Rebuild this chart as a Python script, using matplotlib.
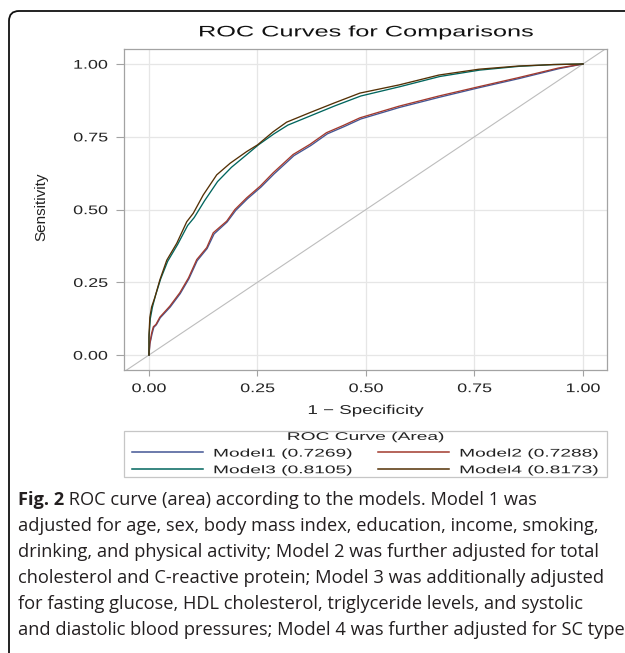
import matplotlib
matplotlib.use("Agg")
import matplotlib.pyplot as plt
from matplotlib.patheffects import AbstractPathEffect
from matplotlib.transforms import Affine2D
from matplotlib.path import Path
from matplotlib.patches import FancyBboxPatch

# ---------------- data ----------------
m1_fpr = [0.000, 0.002, 0.007, 0.011, 0.017, 0.026, 0.049, 0.072, 0.092, 0.111, 0.134, 0.150, 0.180, 0.200,
          0.227, 0.258, 0.288, 0.334, 0.373, 0.411, 0.450, 0.488, 0.578, 0.670, 0.762, 0.853, 0.945, 1.000]
m1_tpr = [0.000, 0.038, 0.072, 0.095, 0.104, 0.128, 0.165, 0.211, 0.262, 0.324, 0.366, 0.416, 0.457, 0.497,
          0.537, 0.577, 0.622, 0.685, 0.720, 0.760, 0.785, 0.811, 0.851, 0.886, 0.919, 0.950, 0.984, 1.000]
m2_fpr = [0.000, 0.002, 0.006, 0.010, 0.016, 0.025, 0.048, 0.071, 0.091, 0.110, 0.133, 0.148, 0.179, 0.198,
          0.225, 0.256, 0.286, 0.332, 0.371, 0.409, 0.448, 0.486, 0.576, 0.668, 0.760, 0.851, 0.943, 1.000]
m2_tpr = [0.000, 0.040, 0.075, 0.097, 0.105, 0.130, 0.168, 0.214, 0.265, 0.328, 0.369, 0.420, 0.460, 0.500,
          0.540, 0.580, 0.626, 0.689, 0.724, 0.764, 0.789, 0.815, 0.855, 0.890, 0.922, 0.953, 0.986, 1.000]
m3_fpr = [0.000, 0.000, 0.003, 0.008, 0.015, 0.027, 0.043, 0.066, 0.089, 0.104, 0.128, 0.158, 0.190, 0.228,
          0.252, 0.288, 0.320, 0.374, 0.428, 0.488, 0.578, 0.670, 0.762, 0.853, 0.932, 1.000]
m3_tpr = [0.000, 0.060, 0.125, 0.165, 0.205, 0.262, 0.322, 0.380, 0.445, 0.472, 0.530, 0.596, 0.645, 0.692,
          0.722, 0.760, 0.790, 0.823, 0.856, 0.890, 0.922, 0.957, 0.979, 0.992, 0.998, 1.000]
m4_fpr = [0.000, 0.000, 0.002, 0.006, 0.014, 0.025, 0.041, 0.064, 0.087, 0.102, 0.125, 0.156, 0.187, 0.225,
          0.250, 0.286, 0.317, 0.371, 0.425, 0.486, 0.576, 0.668, 0.760, 0.851, 0.930, 1.000]
m4_tpr = [0.000, 0.070, 0.130, 0.165, 0.200, 0.258, 0.326, 0.384, 0.458, 0.487, 0.550, 0.619, 0.659, 0.699,
          0.722, 0.767, 0.800, 0.833, 0.865, 0.900, 0.928, 0.962, 0.982, 0.993, 0.998, 1.000]

model_names = ["Model1", "Model2", "Model3", "Model4"]
model_auc = ["0.7269", "0.7288", "0.8105", "0.8173"]
model_colors = ["#445694", "#A23A2E", "#01665E", "#543005"]

tick_values = [0.0, 0.25, 0.5, 0.75, 1.0]
tick_labels = ["0.00", "0.25", "0.50", "0.75", "1.00"]

title_text = "ROC Curves for Comparisons"
xlabel_text = "1 \u2212 Specificity"
ylabel_text = "Sensitivity"
legend_title = "ROC Curve (Area)"

caption_bold = "Fig. 2"
caption_lines = [
    " ROC curve (area) according to the models. Model 1 was",
    "adjusted for age, sex, body mass index, education, income, smoking,",
    "drinking, and physical activity; Model 2 was further adjusted for total",
    "cholesterol and C-reactive protein; Model 3 was additionally adjusted",
    "for fasting glucose, HDL cholesterol, triglyceride levels, and systolic",
    "and diastolic blood pressures; Model 4 was further adjusted for SC type",
]


# ------------- helper: squash text glyphs vertically (wide, low SAS look) -------------
class Squash(AbstractPathEffect):
    def __init__(self, sy=1.0, sx=1.0):
        super().__init__()
        self.sy = sy
        self.sx = sx

    def draw_path(self, renderer, gc, tpath, affine, rgbFace=None):
        v = tpath.vertices
        if tpath.codes is not None:
            v = v[tpath.codes != Path.CLOSEPOLY]
        if len(v) == 0:
            return
        d = affine.transform(v)
        cx = 0.5 * (d[:, 0].min() + d[:, 0].max())
        cy = 0.5 * (d[:, 1].min() + d[:, 1].max())
        t = affine + Affine2D().translate(-cx, -cy).scale(self.sx, self.sy).translate(cx, cy)
        renderer.draw_path(gc, tpath, t, rgbFace)


W, H = 625, 653
fig = plt.figure(figsize=(W / 100, H / 100), dpi=100)
fig.patch.set_facecolor("white")

CH = "Liberation Sans"
TXT = "#222222"

ax = fig.add_axes([124 / W, (H - 370) / H, 483 / W, 321 / H])
ax.set_xlim(-0.0576, 1.0553)
ax.set_ylim(-0.0515, 1.0515)

ax.set_axisbelow(True)
ax.grid(True, color="#e6e6e6", linewidth=0.9)
for s in ax.spines.values():
    s.set_color("#a3a3a3")
    s.set_linewidth(0.9)

ax.axline((0, 0), slope=1, color="#bdbdbd", linewidth=0.8, zorder=1)

series = [(m1_fpr, m1_tpr), (m2_fpr, m2_tpr), (m3_fpr, m3_tpr), (m4_fpr, m4_tpr)]
lines = []
for (fx, ty), name, auc, col in zip(series, model_names, model_auc, model_colors):
    ln, = ax.plot(fx, ty, color=col, linewidth=0.95, label=f"{name} ({auc})", zorder=3)
    lines.append(ln)

ax.set_xticks(tick_values)
ax.set_xticklabels(tick_labels)
ax.set_yticks(tick_values)
ax.set_yticklabels(tick_labels)
ax.tick_params(axis="both", direction="out", color="#a3a3a3", width=0.8,
               labelsize=12.9, labelcolor=TXT)
ax.tick_params(axis="x", length=4.3, pad=3.6)
ax.tick_params(axis="y", length=5.8, pad=5.8)
for lab in ax.get_xticklabels() + ax.get_yticklabels():
    lab.set_fontfamily(CH)
    lab.set_path_effects([Squash(0.70)])

ax.set_title(title_text, fontsize=18.2, family=CH, color="#111111", y=1.053, pad=0,
             va="center")
ax.title.set_path_effects([Squash(0.60)])

ax.set_xlabel(xlabel_text, fontsize=13.5, family=CH, color=TXT, va="center")
ax.xaxis.set_label_coords(0.5, (370 - 411) / 321)
ax.xaxis.label.set_path_effects([Squash(0.68)])

ax.set_ylabel(ylabel_text, fontsize=11, family=CH, color=TXT, va="center")
ax.yaxis.set_label_coords(-0.172, 0.51)

# legend: row1 Model1 / Model2, row2 Model3 / Model4
order = [0, 2, 1, 3]
LF = 13.8
LFpx = LF * 100 / 72
leg = ax.legend([lines[i] for i in order], [lines[i].get_label() for i in order],
                ncol=2, mode="expand", loc="upper left",
                bbox_to_anchor=(8 / 483, (370 - 429) / 321, 467 / 483, 0),
                borderaxespad=0, borderpad=0, labelspacing=-0.04,
                handlelength=71 / LFpx, handletextpad=10 / LFpx,
                title=legend_title, title_fontsize=LF,
                prop={"family": CH, "size": LF},
                frameon=True, fancybox=False, framealpha=1, edgecolor="#c6c6c6")
for t in leg.get_texts():
    t.set_color(TXT)
    t.set_path_effects([Squash(0.58)])
leg.get_title().set_color(TXT)
leg.get_title().set_family(CH)
leg.get_title().set_path_effects([Squash(0.58)])
for h in leg.legend_handles:
    h.set_linewidth(1.1)
frame = leg.get_frame()
frame.set_linewidth(0.9)


def _legend_frame(x0, y0, width, height, mutation_size):
    dx, dy = 8.0, -2.0
    return Path([(x0 - dx, y0 - dy), (x0 + width + dx, y0 - dy),
                 (x0 + width + dx, y0 + height + dy), (x0 - dx, y0 + height + dy),
                 (x0 - dx, y0 - dy)], closed=True)


frame.set_boxstyle(_legend_frame)

# outer rounded frame (right and bottom sides run off the canvas)
border = FancyBboxPatch((0.09, -0.60), 7.00, 7.02,
                        boxstyle="round,pad=0,rounding_size=0.10",
                        transform=fig.dpi_scale_trans, facecolor="none",
                        edgecolor="#111111", linewidth=1.3, zorder=0)
fig.patches.append(border)

# caption
CAP = ["Open Sans", "DejaVu Sans"]
CAPC = "#231f20"
renderer = fig.canvas.get_renderer()
probe = 12.0
maxw = 0
for s in caption_lines[1:]:
    t = fig.text(0, 0, s, fontsize=probe, family=CAP)
    maxw = max(maxw, t.get_window_extent(renderer).width)
    t.remove()
csize = probe * 602 / maxw

x0 = 18
y_first = 500
pitch = 26.0
tb = fig.text(x0 / W, 1 - y_first / H, caption_bold, fontsize=csize, family=CAP,
              fontweight="bold", color=CAPC, va="center", ha="left")
bb = tb.get_window_extent(renderer)
fig.text(bb.x1 / W, 1 - y_first / H, caption_lines[0], fontsize=csize, family=CAP,
         color=CAPC, va="center", ha="left")
for i, s in enumerate(caption_lines[1:], start=1):
    fig.text(x0 / W, 1 - (y_first + pitch * i) / H, s, fontsize=csize, family=CAP,
             color=CAPC, va="center", ha="left")

fig.savefig("out.png", dpi=100)
